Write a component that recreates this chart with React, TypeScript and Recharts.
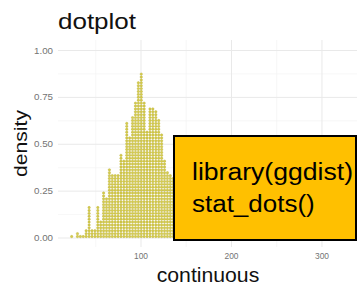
import React from 'react';
import { ScatterChart, Scatter, XAxis, YAxis, ReferenceLine } from 'recharts';

// Bin centres (value of "continuous") and the number of stacked dots in each bin
const binCenters = [
  23.4, 26.6, 29.8, 33.0, 36.2, 39.4, 42.7, 45.9, 49.1, 52.3,
  55.5, 58.7, 61.9, 65.1, 68.3, 71.5, 74.7, 77.9, 81.1, 84.3,
  87.5, 90.7, 93.9, 97.1, 100.3, 103.5, 106.7, 109.9, 113.1, 116.4,
  119.6, 122.8, 126.0, 129.2, 132.4, 135.6, 138.8, 142.0, 145.2, 148.4,
  151.6, 154.8, 158.0, 161.2, 164.4, 170.8, 177.2, 186.8, 199.6, 221.0,
];
const binCounts = [
  1, 0, 2, 1, 1, 3, 11, 3, 3, 11,
  6, 16, 14, 24, 22, 22, 22, 29, 27, 40,
  35, 42, 47, 54, 57, 47, 37, 45, 45, 44,
  41, 36, 27, 23, 22, 21, 19, 18, 16, 14,
  12, 11, 9, 8, 7, 5, 4, 3, 2, 1,
];
const dotStep = 0.01547; // density height of one stacked dot

const xTicks = [100, 200, 300];
const yTicks = [0, 0.25, 0.5, 0.75, 1];
const xMinorGrid = [50, 150, 250];
const yMinorGrid = [0.125, 0.375, 0.625, 0.875];

const titleText = 'dotplot';
const xLabel = 'continuous';
const yLabel = 'density';
const boxLines = ['library(ggdist)', 'stat_dots()'];

const dots = binCenters.flatMap((x, i) =>
  Array.from({ length: binCounts[i] }, (_, k) => ({ x, y: (k + 0.5) * dotStep }))
);

const FONT = 'Liberation Sans, Arial, Helvetica, sans-serif';
const TICK_COLOR = '#737373';

const YTick = (props: any) => {
  const { x, y, payload } = props;
  return (
    <text x={x} y={y} dy="0.355em" textAnchor="end" fontSize={8.5} fill={TICK_COLOR}
      fontFamily={FONT} textLength={19} lengthAdjust="spacingAndGlyphs">
      {Number(payload.value).toFixed(2)}
    </text>
  );
};

const XTick = (props: any) => {
  const { x, y, payload } = props;
  return (
    <text x={x} y={y} dy="0.71em" textAnchor="middle" fontSize={8.5} fill={TICK_COLOR}
      fontFamily={FONT} textLength={14} lengthAdjust="spacingAndGlyphs">
      {String(payload.value)}
    </text>
  );
};

const Dot = (props: any) => (
  <circle cx={props.cx} cy={props.cy} r={1.2} fill="#d6cc4c" stroke="#b9ae34" strokeWidth={0.4} />
);

export default function App() {
  return (
    <div style={{ position: 'fixed', left: 0, top: 0, width: 357, height: 289, background: '#fff' }}>
      <ScatterChart width={357} height={289} margin={{ top: 40, right: 0, bottom: 0, left: 0 }}>
        <XAxis type="number" dataKey="x" domain={[8.3, 338.7]} ticks={xTicks} allowDataOverflow
          axisLine={false} tickLine={false} tickSize={0} tickMargin={6} height={42} tick={XTick} />
        <YAxis type="number" dataKey="y" domain={[-0.048, 1.056]} ticks={yTicks} allowDataOverflow
          axisLine={false} tickLine={false} tickSize={0} tickMargin={5} width={58} tick={YTick} />
        {xMinorGrid.map((v) => (
          <ReferenceLine key={'xm' + v} x={v} stroke="#f3f3f3" strokeWidth={0.7} />
        ))}
        {yMinorGrid.map((v) => (
          <ReferenceLine key={'ym' + v} y={v} stroke="#f3f3f3" strokeWidth={0.7} />
        ))}
        {xTicks.map((v) => (
          <ReferenceLine key={'x' + v} x={v} stroke="#e9e9e9" strokeWidth={1} />
        ))}
        {yTicks.map((v) => (
          <ReferenceLine key={'y' + v} y={v} stroke="#e9e9e9" strokeWidth={1} />
        ))}
        <Scatter data={dots} shape={Dot} isAnimationActive={false} />
      </ScatterChart>
      <svg width={357} height={289} style={{ position: 'absolute', left: 0, top: 0, pointerEvents: 'none' }}>
        <text x={58} y={28.7} fontSize={22} fill="#111" fontFamily={FONT}
          textLength={78} lengthAdjust="spacingAndGlyphs">{titleText}</text>
        <text transform="translate(27,143.5) rotate(-90)" textAnchor="middle" fontSize={19} fill="#111"
          fontFamily={FONT} textLength={67} lengthAdjust="spacingAndGlyphs">{yLabel}</text>
        <text x={208} y={281.5} textAnchor="middle" fontSize={20} fill="#111" fontFamily={FONT}
          textLength={102.6} lengthAdjust="spacingAndGlyphs">{xLabel}</text>
        <rect x={174} y={136} width={182} height={104} fill="#FFC000" stroke="#000" strokeWidth={2} />
        <text x={192} y={179.5} fontSize={23.5} fill="#000" fontFamily={FONT}
          textLength={161} lengthAdjust="spacingAndGlyphs">{boxLines[0]}</text>
        <text x={192} y={211.5} fontSize={23.5} fill="#000" fontFamily={FONT}
          textLength={122.7} lengthAdjust="spacingAndGlyphs">{boxLines[1]}</text>
      </svg>
    </div>
  );
}
